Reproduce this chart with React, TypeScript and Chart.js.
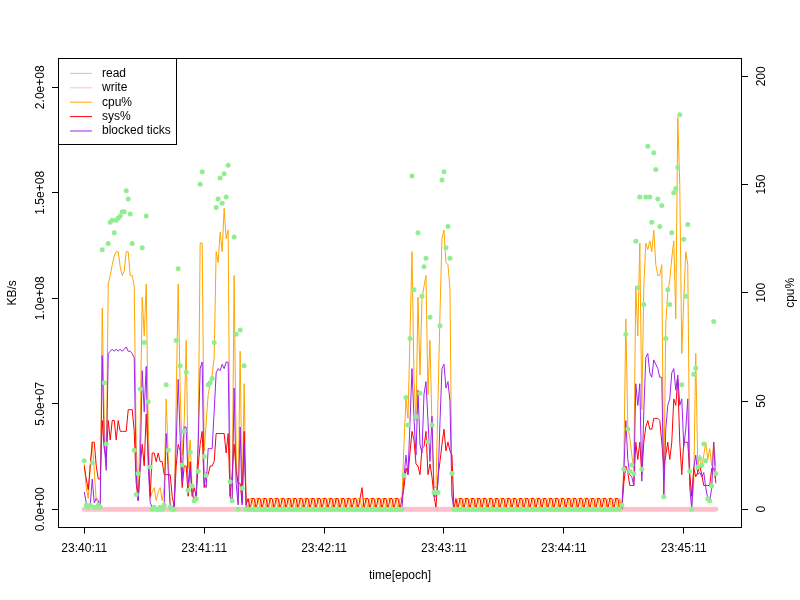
import React, { useEffect, useRef } from "react";
import { Chart, registerables } from "chart.js";

Chart.register(...registerables);

// x axis: seconds since 23:40:11
const timeTickSeconds = [0, 60, 120, 180, 240, 300];
const timeTickLabels = ["23:40:11", "23:41:11", "23:42:11", "23:43:11", "23:44:11", "23:45:11"];
// left axis (KB/s, in units of 1e6)
const kbTickValues = [0, 50, 100, 150, 200];
const kbTickLabels = ["0.0e+00", "5.0e+07", "1.0e+08", "1.5e+08", "2.0e+08"];
// right axis
const cpuTickValues = [0, 50, 100, 150, 200];
const cpuTickLabels = ["0", "50", "100", "150", "200"];

// read KB/s (x 1e6), one value per second
const readMB = [
  23,2,1,2,22,1,1,2,1,123,
  60,31,126,136,137,131,137,138,139,141,
  141,151,147,140,126,28,7,17,57,124,
  79,139,51,20,0,1,0,0,1,0,
  2,59,28,1,0,0,80,114,68,21,
  37,65,9,27,11,4,5,18,154,160,
  25,16,59,60,62,79,143,147,157,145,
  159,148,163,13,4,129,83,0,85,10,
  68,0,
  0,0,0,0,0,0,0,0,0,0,0,0,0,0,0,0,0,0,0,0,0,0,0,0,0,0,0,0,0,0,0,0,0,0,0,0,0,0,0,
  0,0,0,0,0,0,0,0,0,0,0,0,0,0,0,0,0,0,0,0,0,0,0,0,0,0,0,0,0,0,0,0,0,0,0,0,0,0,0,
  16,53,40,81,158,104,44,131,55,101,115,119,32,91,40,8,8,8,87,156,160,124,134,119,17,0,
  0,0,0,0,0,0,0,0,0,0,0,0,0,0,0,0,0,0,0,0,0,0,0,0,0,0,0,0,0,0,0,0,0,0,0,0,0,0,0,0,0,0,
  0,0,0,0,0,0,0,0,0,0,0,0,0,0,0,0,0,0,0,0,0,0,0,0,0,0,0,0,0,0,0,0,0,0,0,0,0,0,0,0,0,
  2,19,83,38,18,21,17,127,105,148,19,97,148,172,148,136,169,161,147,134,144,6,81,104,
  97,131,150,152,162,187,59,128,101,135,18,0,64,67,20,24,21,31,23,5,4,11,89,17,
];

// write KB/s (x 1e6)
const writeMB = [
  0,0,0,0,0,0,0,0,0,0, 0,0,0,0,0,0,0,0,0,0, 0,0,0,0,0,0,0,0,0,0, 0,0,0,0,0,0,0,0,0,0,
  0,0,0,0,0,0,0,0,0,0, 0,0,0,0,0,0,0,0,0,0, 0,0,0,0,0,0,0,0,0,0, 0,0,0,0,0,0,0,0,0,0,
  0,0,0,0,0,0,0,0,0,0, 0,0,0,0,0,0,0,0,0,0, 0,0,0,0,0,0,0,0,0,0, 0,0,0,0,0,0,0,0,0,0,
  0,0,0,0,0,0,0,0,0,0, 0,0,0,0,0,0,0,0,0,0, 0,0,0,0,0,0,0,0,0,0, 0,0,0,0,0,0,0,0,0,0,
  0,0,0,0,0,0,0,0,0,0, 0,0,0,0,0,0,0,0,0,0, 0,0,0,0,0,0,0,0,0,0, 0,0,0,0,0,0,0,0,0,0,
  0,0,0,0,0,0,0,0,0,0, 0,0,0,0,0,0,0,0,0,0, 0,0,0,0,0,0,0,0,0,0, 0,0,0,0,0,0,0,0,0,0,
  0,0,0,0,0,0,0,0,0,0, 0,0,0,0,0,0,0,0,0,0, 0,0,0,0,0,0,0,0,0,0, 0,0,0,0,0,0,0,0,0,0,
  0,0,0,0,0,0,0,0,0,0, 0,0,0,0,0,0,0,0,0,0, 0,0,0,0,0,0,0,0,0,0, 0,0,0,0,0,0,0,
];

// cpu%
const cpuPct = [
  21,10,5,20,31,18,4,3,3,93,
  40,20,104,108,113,117,119,119,112,108,
  110,119,119,108,108,103,30,5,40,98,
  80,104,40,5,8,10,4,8,10,4,
  10,51,25,3,0,1,50,104,55,25,
  40,78,19,32,9,5,8,30,123,123,
  27,40,53,58,62,70,119,114,128,119,
  139,125,129,6,3,108,27,3,73,3,
  58,3,
  0,5,5,0,5,5,0,5,5,0,5,5,0,5,5,0,5,5,0,5,5,0,5,5,0,5,5,0,5,5,0,5,5,0,5,5,0,5,5,
  0,5,5,0,5,5,0,5,5,0,5,5,0,5,5,0,5,5,0,5,5,0,5,5,0,5,5,0,5,5,0,5,5,0,5,5,0,5,5,
  30,51,42,80,119,60,41,98,62,97,103,108,53,78,39,10,10,50,90,125,129,114,113,102,7,0,
  0,5,5,0,5,5,0,5,5,0,5,5,0,5,5,0,5,5,0,5,5,0,5,5,0,5,5,0,5,5,0,5,5,0,5,5,0,5,5,0,5,5,
  0,5,5,0,5,5,0,5,5,0,5,5,0,5,5,0,5,5,0,5,5,0,5,5,0,5,5,0,5,5,0,5,5,0,5,5,0,5,5,0,5,
  0,20,88,38,33,25,19,103,80,123,46,103,123,120,124,119,129,113,108,108,113,6,86,100,
  106,116,124,88,181,150,72,97,119,113,17,2,12,72,20,25,19,25,31,23,28,20,31,20,
];

// sys%
const sysPct = [
  20,14,9,20,31,31,20,14,14,41,
  28,24,41,32,41,41,32,41,36,36,
  36,36,46,46,46,36,12,4,20,30,
  20,44,25,6,26,26,22,26,22,22,
  16,16,16,16,6,1,20,30,27,10,
  20,20,6,22,6,10,6,20,30,36,
  10,17,16,20,20,22,35,35,35,35,
  35,26,35,6,16,30,18,12,12,3,
  36,2,
  5,0,5,5,0,5,5,0,5,5,0,5,5,0,5,5,0,5,5,0,5,5,0,5,5,0,5,5,0,5,5,0,5,5,0,5,5,0,5,
  5,0,5,5,0,5,5,0,5,5,0,5,5,0,5,5,0,5,10,0,5,5,0,5,5,0,5,5,0,5,5,0,5,5,0,5,5,0,5,
  10,19,16,26,36,32,21,20,16,28,29,36,16,21,15,6,1,15,22,30,37,27,31,27,25,0,
  5,0,5,5,0,5,5,0,5,5,0,5,5,0,5,5,0,5,5,0,5,5,0,5,5,0,5,5,0,5,5,0,5,5,0,5,5,0,5,5,0,5,
  5,0,5,5,0,5,5,0,5,5,0,5,5,0,5,5,0,5,5,0,5,5,0,5,5,0,5,5,0,5,5,0,5,5,0,5,5,0,5,5,0,
  0,12,20,17,11,11,11,31,23,31,16,31,38,41,37,37,42,42,42,41,31,19,25,31,
  23,31,51,48,60,31,16,31,31,31,16,6,19,15,17,20,16,11,11,11,11,19,19,13,
];

// blocked ticks
const blockedTicks = [
  8,3,1,2,14,3,5,4,1,71,
  30,18,72,73,74,73,74,73,74,73,
  74,75,73,73,72,70,16,4,20,64,
  45,66,20,3,1,1,0,1,1,0,
  2,35,18,1,1,1,30,60,33,13,
  38,38,12,18,7,4,5,30,65,68,
  12,10,28,28,28,45,63,65,64,67,
  65,68,68,6,3,56,12,2,38,2,
  30,1,
  0,0,0,0,0,0,0,0,0,0,0,0,0,0,0,0,0,0,0,0,0,0,0,0,0,0,0,0,0,0,0,0,0,0,0,0,0,0,0,
  0,0,0,0,0,0,0,0,0,0,0,0,0,0,0,0,0,0,0,0,0,0,0,0,0,0,0,0,0,0,0,0,0,0,0,0,0,0,0,
  15,25,16,40,65,42,25,55,30,26,53,59,41,22,43,6,6,12,40,65,67,56,59,50,6,0,
  0,0,0,0,0,0,0,0,0,0,0,0,0,0,0,0,0,0,0,0,0,0,0,0,0,0,0,0,0,0,0,0,0,0,0,0,0,0,0,0,0,0,
  0,0,0,0,0,0,0,0,0,0,0,0,0,0,0,0,0,0,0,0,0,0,0,0,0,0,0,0,0,0,0,0,0,0,0,0,0,0,0,0,0,
  0,17,41,23,16,15,11,58,48,58,13,45,70,72,63,61,69,67,65,61,61,6,37,48,
  51,63,65,55,62,48,51,29,37,51,10,0,19,25,16,17,15,17,10,5,4,10,31,12,
];

const FONT = "'Liberation Sans', Arial, Helvetica, sans-serif";

const toPoints = (vals: number[]) => vals.map((v, i) => ({ x: i, y: v }));

const rStylePlugin = {
  id: "rstyle",
  afterDraw(chart: any) {
    const ctx: CanvasRenderingContext2D = chart.ctx;
    const a = chart.chartArea;
    const yL = chart.scales.y;
    const yR = chart.scales.y1;
    ctx.save();
    ctx.fillStyle = "#000";
    ctx.font = `12px ${FONT}`;
    // left tick labels (rotated, R style)
    kbTickValues.forEach((v, i) => {
      const py = yL.getPixelForValue(v);
      ctx.save();
      ctx.translate(a.left - 14.6, py);
      ctx.rotate(-Math.PI / 2);
      ctx.textAlign = "center";
      ctx.textBaseline = "alphabetic";
      ctx.fillText(kbTickLabels[i], 0, 0);
      ctx.restore();
    });
    // right tick labels
    cpuTickValues.forEach((v, i) => {
      const py = yR.getPixelForValue(v);
      ctx.save();
      ctx.translate(a.right + 14.4, py);
      ctx.rotate(-Math.PI / 2);
      ctx.textAlign = "center";
      ctx.textBaseline = "top";
      ctx.fillText(cpuTickLabels[i], 0, 0);
      ctx.restore();
    });
    const cy = (a.top + a.bottom) / 2;
    // axis titles
    ctx.save();
    ctx.translate(a.left - 43.2, cy);
    ctx.rotate(-Math.PI / 2);
    ctx.textAlign = "center";
    ctx.textBaseline = "alphabetic";
    ctx.fillText("KB/s", 0, 0);
    ctx.restore();
    ctx.save();
    ctx.translate(a.right + 43.2, cy);
    ctx.rotate(-Math.PI / 2);
    ctx.textAlign = "center";
    ctx.textBaseline = "top";
    ctx.fillText("cpu%", 0, 0);
    ctx.restore();
    ctx.textAlign = "center";
    ctx.textBaseline = "top";
    ctx.fillText("time[epoch]", (a.left + a.right) / 2, a.bottom + 43.2);

    // plot box
    ctx.strokeStyle = "#000";
    ctx.lineWidth = 1;
    ctx.strokeRect(Math.round(a.left) - 0.5, Math.round(a.top) - 0.5, Math.round(a.right - a.left) + 1, Math.round(a.bottom - a.top) + 1);

    // legend (top-left, boxed)
    const lx = Math.round(a.left) - 0.5;
    const ly = Math.round(a.top) - 0.5;
    const lw = 118;
    const lh = 86;
    ctx.fillStyle = "#fff";
    ctx.fillRect(lx, ly, lw, lh);
    ctx.strokeRect(lx, ly, lw, lh);
    chart.data.datasets.forEach((ds: any, i: number) => {
      const rowY = a.top + 14.4 * (i + 1);
      ctx.strokeStyle = ds.legendColor;
      ctx.lineWidth = 1;
      ctx.beginPath();
      ctx.moveTo(a.left + 11, rowY);
      ctx.lineTo(a.left + 33, rowY);
      ctx.stroke();
      ctx.fillStyle = "#000";
      ctx.textAlign = "left";
      ctx.textBaseline = "middle";
      ctx.fillText(ds.label, a.left + 43, rowY);
    });
    ctx.restore();
  },
};

export default function App() {
  const canvasRef = useRef<HTMLCanvasElement | null>(null);

  useEffect(() => {
    const canvas = canvasRef.current;
    if (!canvas) return;
    const tickGrid = {
      display: true,
      drawOnChartArea: false,
      drawTicks: true,
      tickLength: 7,
      color: "#000",
      lineWidth: 1,
    };
    const chart = new Chart(canvas, {
      type: "line",
      data: {
        datasets: [
          {
            label: "read",
            legendColor: "#90EE90",
            data: toPoints(readMB),
            yAxisID: "y",
            showLine: false,
            pointRadius: 2.5,
            pointBorderWidth: 0,
            pointBackgroundColor: "#90EE90",
            borderColor: "#90EE90",
            order: 1,
          },
          {
            label: "write",
            legendColor: "#FFC0CB",
            data: toPoints(writeMB),
            yAxisID: "y",
            showLine: false,
            pointRadius: 2.5,
            pointBorderWidth: 0,
            pointBackgroundColor: "#FFC0CB",
            borderColor: "#FFC0CB",
            order: 5,
          },
          {
            label: "cpu%",
            legendColor: "#FFA500",
            data: toPoints(cpuPct),
            yAxisID: "y1",
            borderColor: "#FFA500",
            borderWidth: 1,
            pointRadius: 0,
            tension: 0,
            order: 4,
          },
          {
            label: "sys%",
            legendColor: "#FF0000",
            data: toPoints(sysPct),
            yAxisID: "y1",
            borderColor: "#FF0000",
            borderWidth: 1,
            pointRadius: 0,
            tension: 0,
            order: 3,
          },
          {
            label: "blocked ticks",
            legendColor: "#A020F0",
            data: toPoints(blockedTicks),
            yAxisID: "y1",
            borderColor: "#A020F0",
            borderWidth: 1,
            pointRadius: 0,
            tension: 0,
            order: 2,
          },
        ] as any,
      },
      options: {
        animation: false,
        responsive: false,
        devicePixelRatio: 1,
        layout: { padding: { top: 59, left: 0, right: 0, bottom: 0 } },
        plugins: { legend: { display: false }, tooltip: { enabled: false } },
        elements: { line: { borderJoinStyle: "round" } },
        scales: {
          x: {
            type: "linear",
            position: "bottom",
            min: -12.64,
            max: 328.64,
            afterBuildTicks: (s: any) => {
              s.ticks = timeTickSeconds.map((v) => ({ value: v }));
            },
            afterFit: (s: any) => {
              s.height = 73.4;
            },
            ticks: {
              autoSkip: false,
              maxRotation: 0,
              minRotation: 0,
              padding: 8,
              color: "#000",
              font: { family: FONT, size: 12 },
              callback: (_v: any, i: number) => timeTickLabels[i],
            },
            grid: tickGrid,
            border: { display: false },
          },
          y: {
            type: "linear",
            position: "left",
            min: -8.2,
            max: 213.4,
            afterBuildTicks: (s: any) => {
              s.ticks = kbTickValues.map((v) => ({ value: v }));
            },
            afterFit: (s: any) => {
              s.width = 59;
            },
            ticks: { display: false },
            grid: tickGrid,
            border: { display: false },
          },
          y1: {
            type: "linear",
            position: "right",
            min: -8,
            max: 208,
            afterBuildTicks: (s: any) => {
              s.ticks = cpuTickValues.map((v) => ({ value: v }));
            },
            afterFit: (s: any) => {
              s.width = 59;
            },
            ticks: { display: false },
            grid: tickGrid,
            border: { display: false },
          },
        },
      } as any,
      plugins: [rStylePlugin],
    });
    return () => chart.destroy();
  }, []);

  return (
    <div style={{ position: "fixed", left: 0, top: 0, width: 800, height: 600, background: "#fff" }}>
      <canvas ref={canvasRef} width={800} height={600} style={{ display: "block", width: 800, height: 600 }} />
    </div>
  );
}
